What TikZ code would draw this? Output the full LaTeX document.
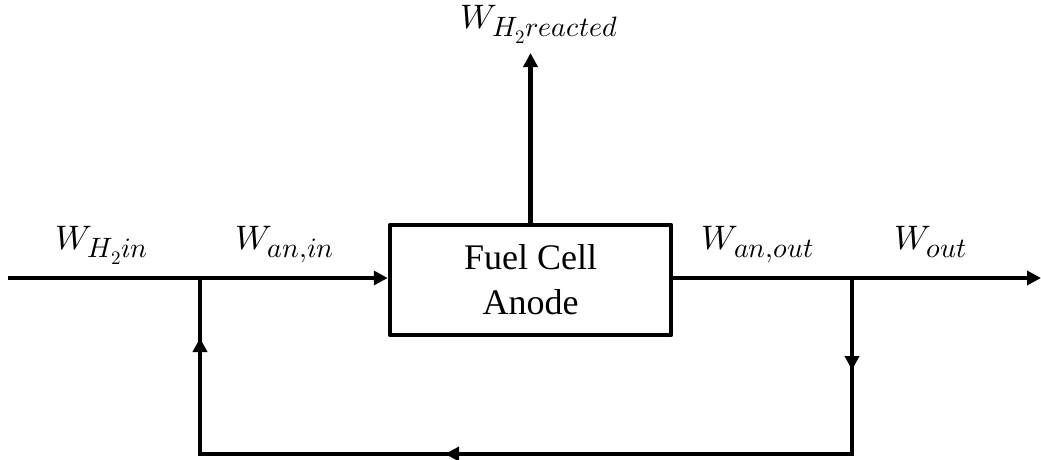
\documentclass[tikz,border=0pt]{standalone}
\usepackage{fontspec}
\usepackage{unicode-math}
\DeclareMathSizes{34}{34}{28}{19}
\newfontfamily\boxfont{Liberation Serif}
\usetikzlibrary{arrows.meta}
\tikzset{
  flow/.style={line width=4.5pt, line cap=butt, line join=miter},
  arr/.style={flow, -{Triangle[length=14pt,width=14pt]}},
  lab/.style={anchor=base, inner sep=0pt, font=\fontsize{34}{40}\selectfont},
  fcbox/.style={draw, line width=4.5pt, line join=round, minimum width=281pt, minimum height=110pt,
    align=center, font=\boxfont\fontsize{36}{45}\selectfont, inner sep=0pt}
}
\begin{document}
\begin{tikzpicture}[x=1pt,y=-1pt]
\useasboundingbox (0,0) rectangle (1041,459);
\node[fcbox] (fc) at (530.5,280) {Fuel Cell\\Anode};
\coordinate (in) at (8,278);
\coordinate (j1) at (200,278);
\coordinate (j2) at (852,278);
\coordinate (out) at (1041,278);
\coordinate (top) at (530.5,53);
\coordinate (br) at (852,454);
\coordinate (bl) at (200,454);
\coordinate (m2) at (852,370);
\coordinate (m2a) at (852,360);
\coordinate (m3) at (445,454);
\coordinate (m3a) at (455,454);
\coordinate (m1) at (200,338);
\coordinate (m1a) at (200,348);
\draw[arr] (in) -- (in -| fc.west);
\draw[arr] (fc.north) -- (top);
\draw[arr] (fc.east |- out) -- (out);
\draw[flow] (j2) -- (br) -- (bl) -- (j1);
\draw[arr] (m2a) -- (m2);
\draw[arr] (m3a) -- (m3);
\draw[arr] (m1a) -- (m1);
\node[lab] (lin) at (102,249) {$W_{H_2 in}$};
\node[lab] (lanin) at (285,249) {$W_{an,in}$};
\node[lab] (lanout) at (758,249) {$W_{an,out}$};
\node[lab] (lout) at (931,249) {$W_{out}$};
\node[lab] (lreact) at (539,28) {$W_{H_2 reacted}$};
\end{tikzpicture}
\end{document}
